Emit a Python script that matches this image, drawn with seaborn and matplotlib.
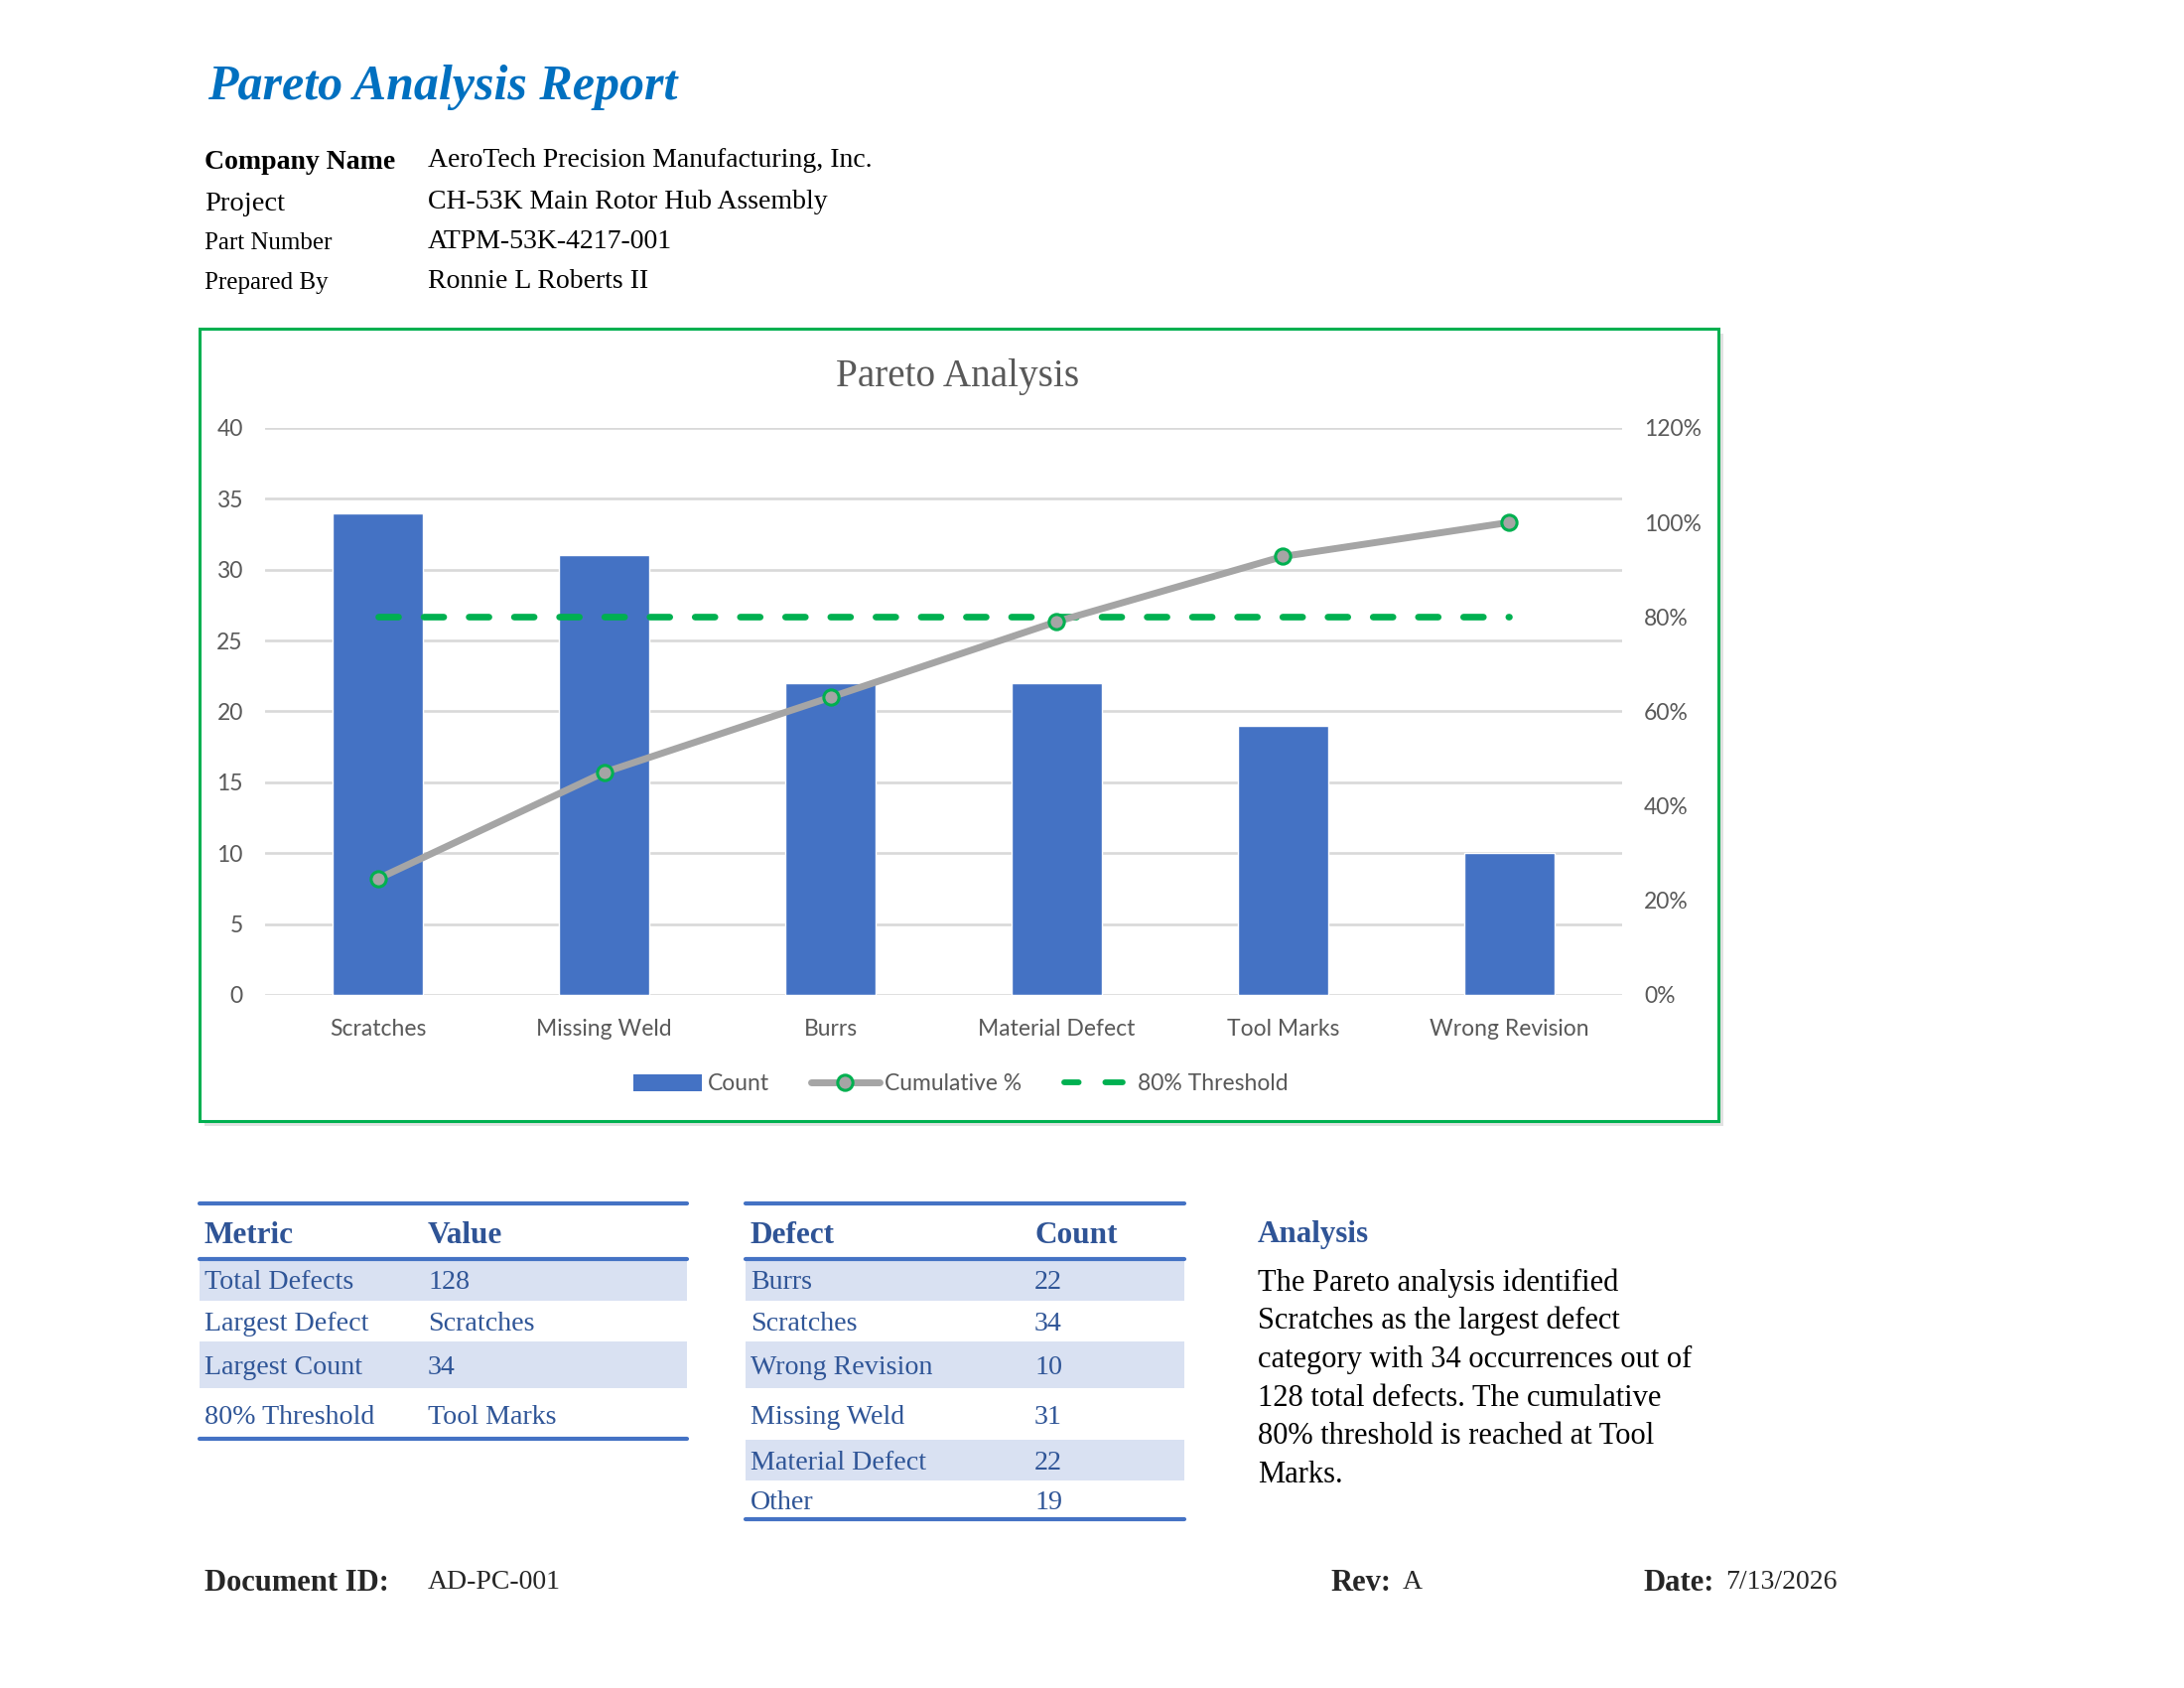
import numpy as np
import matplotlib
matplotlib.use("Agg")
import matplotlib.pyplot as plt
import seaborn as sns
from matplotlib.patches import Rectangle, Patch
from matplotlib.lines import Line2D
from matplotlib.ticker import FuncFormatter

# ── data ────────────────────────────────────────────────────
categories = ["Scratches", "Missing Weld", "Burrs", "Material Defect", "Tool Marks", "Wrong Revision"]
counts = [34, 31, 22, 22, 19, 10]
cumulative = [0.246, 0.471, 0.630, 0.790, 0.928, 1.000]
threshold = [0.80, 0.80, 0.80, 0.80, 0.80, 0.80]
left_ticks = [0, 5, 10, 15, 20, 25, 30, 35, 40]
right_ticks = [0.0, 0.2, 0.4, 0.6, 0.8, 1.0, 1.2]

info_labels = ["Company Name", "Project", "Part Number", "Prepared By"]
info_values = ["AeroTech Precision Manufacturing, Inc.", "CH-53K Main Rotor Hub Assembly",
               "ATPM-53K-4217-001", "Ronnie L Roberts II"]

metric_names = ["Total Defects", "Largest Defect", "Largest Count", "80% Threshold"]
metric_values = ["128", "Scratches", "34", "Tool Marks"]

defect_names = ["Burrs", "Scratches", "Wrong Revision", "Missing Weld", "Material Defect", "Other"]
defect_counts = ["22", "34", "10", "31", "22", "19"]

analysis_lines = ["The Pareto analysis identified",
                  "Scratches as the largest defect",
                  "category with 34 occurrences out of",
                  "128 total defects. The cumulative",
                  "80% threshold is reached at Tool",
                  "Marks."]

# ── colours / fonts ─────────────────────────────────────────
BLUE_BAR = "#4472C4"
GREEN = "#00B050"
GREY_LINE = "#A5A5A5"
TXT_GREY = "#595959"
TBL_TXT = "#2F5597"
TBL_HEAD = "#2F5496"
SHADE = "#D9E1F2"
SERIF = "Liberation Serif"
SANS = "Lato"

sns.set_theme(style="white")
plt.rcParams["font.family"] = [SERIF, "DejaVu Serif"]

W, H = 2200, 1700
fig = plt.figure(figsize=(22, 17), dpi=100)


def fx(x):
    return x / W


def fy(y):
    return 1 - y / H


# ── header ──────────────────────────────────────────────────
fig.text(fx(209), fy(88), "Pareto Analysis Report", fontsize=36, fontweight="bold",
         fontstyle="italic", color="#0070C0", va="center")

info_y = [163, 205, 245, 285]
info_size = [20, 20.5, 18, 18]
for lab, val, y, s in zip(info_labels, info_values, info_y, info_size):
    fig.text(fx(206), fy(y), lab, fontsize=s, va="center", color="black",
             fontweight="bold" if lab == "Company Name" else "normal")
    fig.text(fx(431), fy(y - 2), val, fontsize=20, va="center", color="black")

# ── chart frame ─────────────────────────────────────────────
box_x0, box_x1, box_y0, box_y1 = 201, 1731, 331, 1129
fig.patches.append(Rectangle((fx(box_x0 + 5), fy(box_y1 + 5)), fx(box_x1 - box_x0),
                             (box_y1 - box_y0) / H, transform=fig.transFigure,
                             facecolor="#D0D0D0", edgecolor="none", alpha=0.6, zorder=0))
fig.patches.append(Rectangle((fx(box_x0), fy(box_y1)), fx(box_x1 - box_x0),
                             (box_y1 - box_y0) / H, transform=fig.transFigure,
                             facecolor="white", edgecolor=GREEN, linewidth=2.2, zorder=1))

fig.text(fx(965), fy(380), "Pareto Analysis", fontsize=28.3, color=TXT_GREY,
         ha="center", va="center", zorder=3)

ax = fig.add_axes([fx(267), fy(1002), fx(1634 - 267), (1002 - 431) / H], zorder=2)
ax.set_facecolor("none")
sns.barplot(x=categories, y=counts, color=BLUE_BAR, saturation=1, width=0.4, ax=ax, zorder=3)
ax.set_xlim(-0.5, len(categories) - 0.5)
ax.set_ylim(0, 40)
ax.set_yticks(left_ticks)
ax.yaxis.grid(True, color="#D9D9D9", linewidth=1.9)
ax.set_axisbelow(True)
for sp in ax.spines.values():
    sp.set_visible(False)
ax.tick_params(axis="both", length=0, labelsize=16.5, labelcolor=TXT_GREY)
ax.tick_params(axis="y", pad=16)
ax.tick_params(axis="x", pad=17)
ax.set_xlabel("")
ax.set_ylabel("")
for lbl in ax.get_xticklabels() + ax.get_yticklabels():
    lbl.set_fontfamily(SANS)

ax2 = ax.twinx()
ax2.plot(range(len(categories)), cumulative, color=GREY_LINE, linewidth=5,
         marker="o", markersize=11, markerfacecolor=GREY_LINE, markeredgecolor=GREEN,
         markeredgewidth=2.2, zorder=5, solid_capstyle="round")
ax2.plot(range(len(categories)), threshold, color=GREEN, linewidth=4.8,
         linestyle=(0, (3.0, 3.83)), dash_capstyle="round", zorder=4)
ax2.set_ylim(0, 1.2)
ax2.set_yticks(right_ticks)
ax2.yaxis.set_major_formatter(FuncFormatter(lambda v, p: f"{v:.0%}"))
ax2.grid(False)
for sp in ax2.spines.values():
    sp.set_visible(False)
ax2.tick_params(axis="y", length=0, labelsize=16.5, labelcolor=TXT_GREY, pad=16)
for lbl in ax2.get_yticklabels():
    lbl.set_fontfamily(SANS)

handles = [Patch(facecolor=BLUE_BAR, edgecolor="none"),
           Line2D([0], [0], color=GREY_LINE, linewidth=5, marker="o", markersize=11,
                  markerfacecolor=GREY_LINE, markeredgecolor=GREEN, markeredgewidth=2.2),
           Line2D([0], [0], color=GREEN, linewidth=4.2, linestyle=(0.5, (3.0, 4.6)),
                  dash_capstyle="round")]
fig.legend(handles, ["Count", "Cumulative %", "80% Threshold"], loc="center",
           bbox_to_anchor=(fx(968), fy(1092)), ncol=3, frameon=False,
           prop={"family": SANS, "size": 16.5}, labelcolor=TXT_GREY,
           handlelength=3.0, handletextpad=0.25, columnspacing=1.85)

# ── tables ──────────────────────────────────────────────────
row_y = [1292, 1333, 1377, 1428, 1474, 1514]
shade_rows = [(1269, 1310), (1351, 1398), (1450, 1491)]


def hline(x0, x1, y, lw=3):
    fig.add_artist(Line2D([fx(x0), fx(x1)], [fy(y), fy(y)], color=BLUE_BAR,
                          linewidth=lw, transform=fig.transFigure))


def shade(x0, x1, y0, y1):
    fig.patches.append(Rectangle((fx(x0), fy(y1)), fx(x1 - x0), (y1 - y0) / H,
                                 transform=fig.transFigure, facecolor=SHADE,
                                 edgecolor="none", zorder=0))


def draw_table(x0, x1, col2, head, names, vals, bottom):
    for i, (a, b) in enumerate(shade_rows):
        if i * 2 < len(names):
            shade(x0, x1, a, b)
    hline(x0, x1, 1212)
    hline(x0, x1, 1268)
    hline(x0, x1, bottom)
    fig.text(fx(x0 + 5), fy(1244), head[0], fontsize=22.5, fontweight="bold",
             color=TBL_HEAD, va="center")
    fig.text(fx(col2), fy(1244), head[1], fontsize=22.5, fontweight="bold",
             color=TBL_HEAD, va="center")
    for n, v, y in zip(names, vals, row_y):
        fig.text(fx(x0 + 5), fy(y), n, fontsize=20.2, color=TBL_TXT, va="center")
        fig.text(fx(col2), fy(y), v, fontsize=20.2, color=TBL_TXT, va="center")


draw_table(201, 692, 431, ("Metric", "Value"), metric_names, metric_values, 1449)
draw_table(751, 1193, 1042, ("Defect", "Count"), defect_names, defect_counts, 1530)

# ── analysis text ───────────────────────────────────────────
fig.text(fx(1267), fy(1244), "Analysis", fontsize=22.3, fontweight="bold",
         color=TBL_HEAD, va="center")
for i, line in enumerate(analysis_lines):
    fig.text(fx(1267), fy(1292 + i * 38.7), line, fontsize=22, color="black", va="center")

# ── footer ──────────────────────────────────────────────────
fig.text(fx(206), fy(1594), "Document ID:", fontsize=22, fontweight="bold", va="center")
fig.text(fx(431), fy(1594), "AD-PC-001", fontsize=20, va="center")
fig.text(fx(1340), fy(1594), "Rev:", fontsize=22, fontweight="bold", va="center")
fig.text(fx(1413), fy(1594), "A", fontsize=20, va="center")
fig.text(fx(1655), fy(1594), "Date:", fontsize=22, fontweight="bold", va="center")
fig.text(fx(1738), fy(1594), "7/13/2026", fontsize=20, va="center")

fig.savefig("out.png", dpi=100, facecolor="white")
